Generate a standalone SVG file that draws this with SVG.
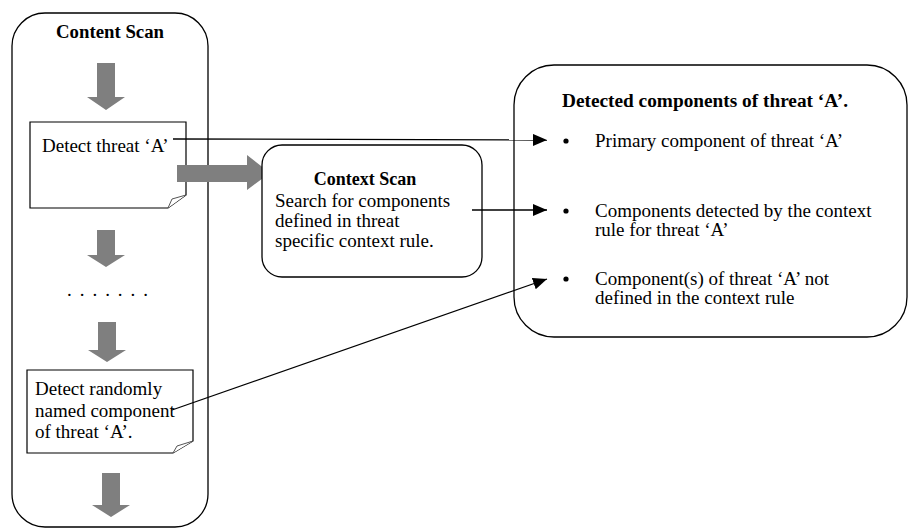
<svg xmlns="http://www.w3.org/2000/svg" width="908" height="529" viewBox="0 0 908 529">
  <style>
    .box { fill: #ffffff; stroke: #000000; stroke-width: 1.3; }
    .note { fill: #ffffff; stroke: #000000; stroke-width: 1.2; }
    .fold { fill: #ffffff; stroke: #555555; stroke-width: 1; }
    .garrow { fill: #7f7f7f; stroke: none; }
    .t { font-family: "Liberation Serif", "Times New Roman", serif; font-size: 19px; fill: #000000; }
    .b { font-family: "Liberation Serif", "Times New Roman", serif; font-size: 18px; font-weight: bold; fill: #000000; }
    .conn { fill: none; stroke: #000000; stroke-width: 1.3; }
    .dot { fill: #000000; }
  </style>
  <defs>
    <marker id="ah" markerUnits="userSpaceOnUse" markerWidth="16" markerHeight="14" refX="14" refY="6" orient="auto">
      <path d="M0,0 L14,6 L0,12 Z" fill="#000000"/>
    </marker>
  </defs>
  <rect width="908" height="529" fill="#ffffff"/>

  <g id="content-scan">
    <rect class="box" x="12" y="13" width="196" height="514" rx="33" ry="33"/>
    <text class="b" x="110" y="38" text-anchor="middle" textLength="108" lengthAdjust="spacingAndGlyphs">Content Scan</text>
    <polygon class="garrow" points="97,63 115,63 115,97 125,97 106,110 87,97 97,97"/>
    <polygon class="garrow" points="97,230 115,230 115,255 125,255 106,267 87,255 97,255"/>
    <text class="t" x="67" y="296" textLength="81" lengthAdjust="spacing">. . . . . . .</text>
    <polygon class="garrow" points="98,322 116,322 116,350 126,350 107,362 88,350 98,350"/>
    <polygon class="garrow" points="102,473 120,473 120,505 130,505 111,517 92,505 102,505"/>
  </g>

  <g id="detect-threat">
    <path class="note" d="M30,122 H186 V195 L168,208 H30 Z"/>
    <path class="fold" d="M186,195 L172,199 L168,208"/>
    <text class="t" x="42" y="152">Detect threat &#8216;A&#8217;</text>
  </g>

  <g id="detect-random">
    <path class="note" d="M27,370 H193 V441 L173,453 H27 Z"/>
    <path class="fold" d="M193,441 L177,446 L173,453"/>
    <text class="t" x="35" y="395">Detect randomly</text>
    <text class="t" x="35" y="417">named component</text>
    <text class="t" x="35" y="438">of threat &#8216;A&#8217;.</text>
  </g>

  <g id="big-arrow">
    <polygon class="garrow" points="177,165 247,165 247,155 270,173 247,190 247,182 177,182"/>
  </g>

  <g id="context-scan">
    <rect class="box" x="262" y="145" width="220" height="132" rx="20" ry="20"/>
    <text class="b" x="365" y="185" text-anchor="middle">Context Scan</text>
    <text class="t" x="275" y="207">Search for components</text>
    <text class="t" x="275" y="227">defined in threat</text>
    <text class="t" x="275" y="247">specific context rule.</text>
  </g>

  <g id="detected-components">
    <rect class="box" x="514" y="65" width="393" height="272" rx="40" ry="40"/>
    <text class="b" x="562" y="107" textLength="286" lengthAdjust="spacingAndGlyphs">Detected components of threat &#8216;A&#8217;.</text>
    <circle class="dot" cx="566" cy="141" r="2.6"/>
    <text class="t" x="595" y="147">Primary component of threat &#8216;A&#8217;</text>
    <circle class="dot" cx="566" cy="211" r="2.6"/>
    <text class="t" x="595" y="217">Components detected by the context</text>
    <text class="t" x="595" y="236">rule for threat &#8216;A&#8217;</text>
    <circle class="dot" cx="566" cy="279" r="2.6"/>
    <text class="t" x="595" y="285">Component(s) of threat &#8216;A&#8217; not</text>
    <text class="t" x="595" y="304">defined in the context rule</text>
  </g>

  <g id="connectors">
    <line class="conn" x1="173" y1="139" x2="547" y2="140" marker-end="url(#ah)"/>
    <line class="conn" x1="472" y1="210" x2="547" y2="210" marker-end="url(#ah)"/>
    <line class="conn" x1="172" y1="410" x2="547" y2="279" marker-end="url(#ah)"/>
  </g>
</svg>
